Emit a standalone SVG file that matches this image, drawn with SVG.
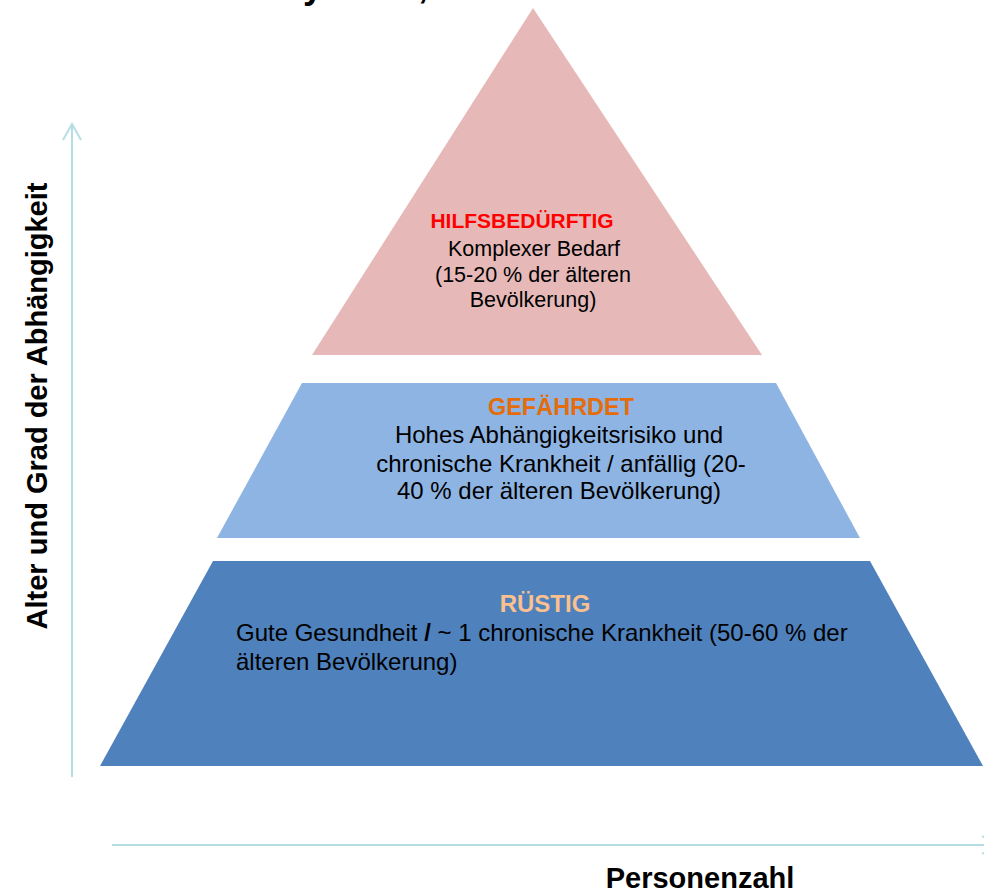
<svg xmlns="http://www.w3.org/2000/svg" width="984" height="893" viewBox="0 0 984 893">
  <defs>
    <style>
      text { font-family: "Liberation Sans", Arial, sans-serif; fill: #000; }
      .head { font-weight: bold; text-anchor: middle; }
      .body { text-anchor: middle; }
      .axis-label { font-weight: bold; font-size: 29px; }
      .axis { stroke: #B7DDE4; stroke-width: 2; fill: none; }
    </style>
    <marker id="open-arrow" viewBox="0 0 20 20" refX="17" refY="10" markerWidth="20" markerHeight="20" markerUnits="userSpaceOnUse" orient="auto">
      <path d="M1,1 L17,10 L1,19" fill="none" stroke="#B7DDE4" stroke-width="2"/>
    </marker>
  </defs>

  <rect width="984" height="893" fill="#FFFFFF"/>

  <!-- title, running off the top edge -->
  <text x="303" y="-2.5" font-size="36" font-weight="bold">y</text>
  <text x="418" y="-2" font-size="36" font-weight="bold">,</text>

  <!-- axes -->
  <g id="connectors">
    <line class="axis" x1="72" y1="777" x2="72" y2="124" marker-end="url(#open-arrow)"/>
    <line class="axis" x1="112" y1="845" x2="998" y2="845" marker-end="url(#open-arrow)"/>
  </g>

  <!-- top level -->
  <g id="hilfsbeduerftig">
    <polygon points="533,8 762,355 312,355" fill="#E6B9B8"/>
    <text class="head" x="522" y="228" font-size="21" fill="#FF0000" style="fill:#FF0000">HILFSBEDÜRFTIG</text>
    <text class="body" x="534" y="256" font-size="21.5">Komplexer Bedarf</text>
    <text class="body" x="533" y="282" font-size="21.5">(15-20 % der älteren</text>
    <text class="body" x="533" y="307" font-size="21.5">Bevölkerung)</text>
  </g>

  <!-- middle level -->
  <g id="gefaehrdet">
    <polygon points="302,383 776,383 860,538 217,538" fill="#8EB4E3"/>
    <text class="head" x="561" y="415" font-size="23.5" style="fill:#E46C0A">GEFÄHRDET</text>
    <text class="body" x="559" y="443" font-size="24">Hohes Abhängigkeitsrisiko und</text>
    <text class="body" x="561" y="472" font-size="24">chronische Krankheit / anfällig (20-</text>
    <text class="body" x="559" y="499" font-size="24">40 % der älteren Bevölkerung)</text>
  </g>

  <!-- bottom level -->
  <g id="ruestig">
    <polygon points="213,561 870,561 983,766 100,766" fill="#4F81BD"/>
    <text class="head" x="545" y="612" font-size="24" style="fill:#FAC090">RÜSTIG</text>
    <text x="236" y="641" font-size="24">Gute Gesundheit <tspan font-weight="bold">/</tspan> ~ 1 chronische Krankheit (50-60 % der</text>
    <text x="236" y="670" font-size="24">älteren Bevölkerung)</text>
  </g>

  <!-- axis labels -->
  <g id="axis-labels">
    <text class="axis-label" transform="translate(47,406) rotate(-90)" text-anchor="middle">Alter und Grad der Abhängigkeit</text>
    <text class="axis-label" x="700" y="888" text-anchor="middle">Personenzahl</text>
  </g>
</svg>
